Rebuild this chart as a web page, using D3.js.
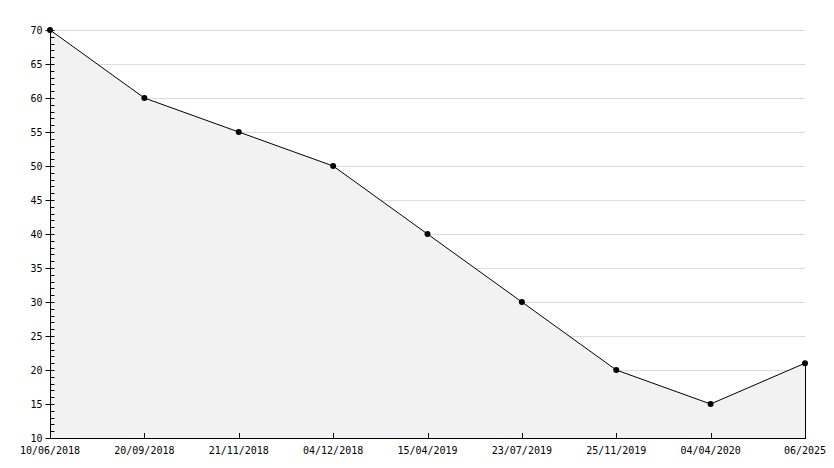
<!DOCTYPE html>
<html><head><meta charset="utf-8">
<script src="https://cdn.jsdelivr.net/npm/d3@7"></script>
<style>body{margin:0;background:#fff}svg{display:block}text{font-family:"DejaVu Sans Mono",monospace;font-size:10px;fill:#000}</style>
</head><body><svg id="c" width="834" height="468"></svg>
<script>
const categories = ["10/06/2018","20/09/2018","21/11/2018","04/12/2018","15/04/2019","23/07/2019","25/11/2019","04/04/2020","06/2025"];
const values = [70,60,55,50,40,30,20,15,21];
const yTicks = [10,15,20,25,30,35,40,45,50,55,60,65,70];

const svg = d3.select("#c");
const L=50,R=805,T=30,B=438;
const x = d3.scalePoint().domain(categories).range([L,R]);
const y = d3.scaleLinear().domain([10,70]).range([B,T]);

// grid
svg.append("g").selectAll("line").data(yTicks.filter(v=>v>10)).join("line")
  .attr("x1",L).attr("x2",R).attr("y1",d=>y(d)+0.5).attr("y2",d=>y(d)+0.5)
  .attr("stroke","#dcdcdc").attr("stroke-width",1);

// area
const area = d3.area().x((d,i)=>x(categories[i])).y0(y(10)).y1(d=>y(d));
svg.append("path").datum(values).attr("d",area).attr("fill","#f2f2f2");
// right edge
svg.append("line").attr("x1",x(categories[categories.length-1])+0.5).attr("x2",x(categories[categories.length-1])+0.5)
  .attr("y1",y(values[values.length-1])).attr("y2",B).attr("stroke","#000");

const line = d3.line().x((d,i)=>x(categories[i])).y(d=>y(d));
svg.append("path").datum(values).attr("d",line).attr("fill","none").attr("stroke","#000").attr("stroke-width",1);

// y axis
const ya = svg.append("g").attr("transform",`translate(${L+0.5},0)`);
ya.append("line").attr("y1",T).attr("y2",B).attr("stroke","#000");
const minor = d3.range(10,71,1).filter(v=>v%5!==0);
ya.selectAll(".mn").data(minor).join("line").attr("class","mn")
  .attr("x1",0).attr("x2",4).attr("y1",d=>Math.round(y(d))+0.5).attr("y2",d=>Math.round(y(d))+0.5).attr("stroke","#000");
ya.selectAll(".mj").data(yTicks).join("line").attr("class","mj")
  .attr("x1",-5).attr("x2",4).attr("y1",d=>Math.round(y(d))+0.5).attr("y2",d=>Math.round(y(d))+0.5).attr("stroke","#000");
ya.selectAll("text").data(yTicks).join("text")
  .attr("x",-8).attr("y",d=>y(d)+4).attr("text-anchor","end").text(d=>d);

// x axis
const xa = svg.append("g");
xa.append("line").attr("x1",L).attr("x2",R+1).attr("y1",B+0.5).attr("y2",B+0.5).attr("stroke","#000");
xa.selectAll("line.t").data(categories.slice(1)).join("line").attr("class","t")
  .attr("x1",d=>Math.round(x(d))+0.5).attr("x2",d=>Math.round(x(d))+0.5).attr("y1",B-5).attr("y2",B).attr("stroke","#000");
xa.selectAll("text").data(categories).join("text")
  .attr("x",d=>x(d)).attr("y",B+16).attr("text-anchor","middle").text(d=>d);

// markers
svg.append("g").selectAll("path").data(values).join("path")
  .attr("transform",(d,i)=>`translate(${x(categories[i])},${y(d)})`)
  .attr("d",d3.symbol(d3.symbolCircle,28)()).attr("fill","#000");
</script></body></html>
